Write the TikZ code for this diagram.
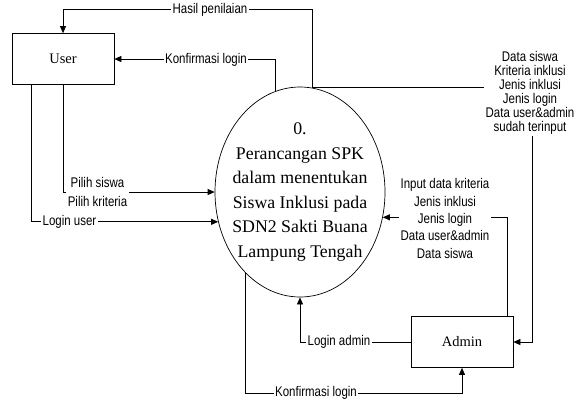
\documentclass[tikz,border=0pt]{standalone}
\usepackage{fontspec}
\setmainfont{Liberation Serif}
\newfontfamily\lblfont[FakeStretch=0.82]{Liberation Sans}
\usepackage{tikz}
\usetikzlibrary{shapes.geometric,arrows.meta,positioning,calc}

\begin{document}
\begin{tikzpicture}[x=1pt, y=-1pt,
    entitas/.style={draw, line width=0.7pt, minimum width=102pt, minimum height=51pt, font=\fontsize{14.5}{17}\selectfont},
    alur/.style={line width=0.7pt, -{Triangle[length=7pt,width=6pt]}},
    lbl/.style={fill=white, inner sep=1.5pt, align=center, font=\lblfont\fontsize{14}{14}\selectfont}]
    \useasboundingbox (0,0) rectangle (578,400);
    \node[entitas] (user) at (63,59) {User};
    \node[entitas] (admin) at (462,342) {Admin};
    \node[draw, ellipse, line width=0.7pt, minimum width=170pt, minimum height=210pt, inner sep=0pt] (proses) at (300,192) {};
    \node[align=center, font=\fontsize{17.8}{24.5}\selectfont] (judul) at (proses.center)
        {0.\\Perancangan SPK\\dalam menentukan\\Siswa Inklusi pada\\SDN2 Sakti Buana\\Lampung Tengah};
    % dari proses ke user
    \draw[alur] (proses.83) -- ++(0,-78) -| (user.north);
    \draw[alur] (proses.104) |- (user.east);
    % dari user ke proses
    \draw[alur] (user.south) |- (proses.180);
    \draw[alur] ([xshift=-32pt]user.south) |- (proses.200);
    % admin
    \draw[alur] (admin.west) -| (proses.270);
    \draw[alur] (proses.236) -- ++(0,120) -| (admin.south);
    \draw[alur] ([xshift=45pt]admin.north) |- (proses.343);
    \draw[alur] (proses.83) -- ++(220,0) |- (admin.east);
    % label alur
    \node[lbl] (lHasil) at (210,10) {Hasil penilaian};
    \node[lbl] (lKonfUser) at (206,60) {Konfirmasi login};
    \node[lbl, font=\lblfont\fontsize{14}{19}\selectfont] (lPilih) at (97.5,191.5) {Pilih siswa\\Pilih kriteria};
    \node[lbl] (lLoginUser) at (69.5,222) {Login user};
    \node[lbl] (lDataSiswa) at (530,93) {Data siswa\\Kriteria inklusi\\Jenis inklusi\\Jenis login\\Data user\&admin\\sudah terinput};
    \node[lbl, font=\lblfont\fontsize{14}{17.3}\selectfont] (lInput) at (445,218.5) {Input data kriteria\\Jenis inklusi\\Jenis login\\Data user\&admin\\Data siswa};
    \node[lbl] (lLoginAdmin) at (339,342) {Login admin};
    \node[lbl] (lKonfAdmin) at (316,393) {Konfirmasi login};
\end{tikzpicture}
\end{document}
